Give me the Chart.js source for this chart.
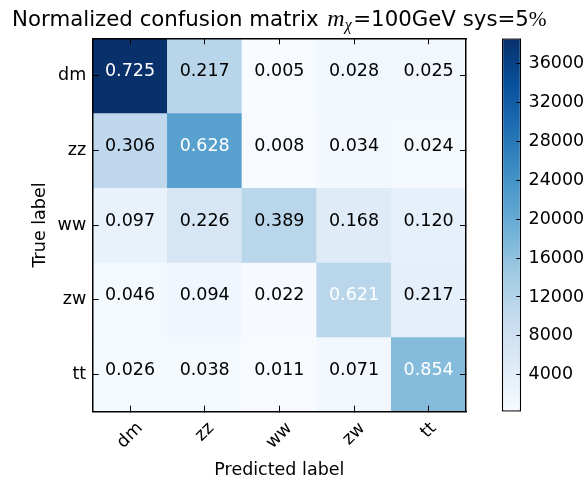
<!DOCTYPE html>
<html><head><meta charset="utf-8">
<script src="https://cdn.jsdelivr.net/npm/chart.js@4.4.0/dist/chart.umd.min.js"></script>
<style>
html,body{margin:0;padding:0;background:#fff;}
#wrap{position:relative;width:587px;height:477px;}
canvas{position:absolute;left:0;top:0;}
</style>
</head><body>
<div id="wrap"><canvas id="cm" width="587" height="477"></canvas><canvas id="cb" width="587" height="477"></canvas></div>
<script>
// ---- data ----
const predLabels = ['dm', 'zz', 'ww', 'zw', 'tt'];
const trueLabels = ['dm', 'zz', 'ww', 'zw', 'tt'];

// normalized values shown in each cell (rows = true label)
const normDm = [0.725, 0.217, 0.005, 0.028, 0.025];
const normZz = [0.306, 0.628, 0.008, 0.034, 0.024];
const normWw = [0.097, 0.226, 0.389, 0.168, 0.120];
const normZw = [0.046, 0.094, 0.022, 0.621, 0.217];
const normTt = [0.026, 0.038, 0.011, 0.071, 0.854];

// raw counts (drive the cell colours)
const countDm = [38560, 11530, 266, 1488, 1329];
const countZz = [10530, 21600, 275, 1170, 826];
const countWw = [2813, 6554, 11281, 4872, 3480];
const countZw = [837, 1711, 400, 11302, 3949];
const countTt = [516, 754, 218, 1409, 16943];

const colorbarTicks = [4000, 8000, 12000, 16000, 20000, 24000, 28000, 32000, 36000];

const titleMain = 'Normalized confusion matrix ';
const titleMathVar = 'm';
const titleMathSub = 'χ';
const titleRest = '=100GeV sys=5';
const titlePct = '%';
const xTitle = 'Predicted label';
const yTitle = 'True label';

// ---- helpers ----
const normMatrix = [normDm, normZz, normWw, normZw, normTt];
const countMatrix = [countDm, countZz, countWw, countZw, countTt];
const allCounts = countMatrix.flat();
const cMin = Math.min(...allCounts);
const cMax = Math.max(...allCounts);

const BLUES = [[247,251,255],[222,235,247],[198,219,239],[158,202,225],[107,174,214],[66,146,198],[33,113,181],[8,81,156],[8,48,107]];
function blues(t) {
  t = Math.max(0, Math.min(1, t));
  const p = t * 8;
  const i = Math.min(7, Math.floor(p));
  const f = p - i;
  const a = BLUES[i], b = BLUES[i + 1];
  const c = a.map((v, k) => Math.round(v + (b[k] - v) * f));
  return 'rgb(' + c.join(',') + ')';
}

const FONT = 'DejaVu Sans';
const FS = 17.5;
Chart.defaults.font.family = FONT;
Chart.defaults.color = '#000';

const gridOpts = { drawOnChartArea: false, tickLength: -6, color: '#000', lineWidth: 1, z: 1 };
const borderOpts = { display: true, color: '#000', width: 1.5, z: 1 };

const cellTextPlugin = {
  id: 'cellText',
  afterDatasetsDraw(chart) {
    const ctx = chart.ctx;
    const thresh = Math.max(...normMatrix.flat()) / 2;
    ctx.save();
    ctx.font = FS + 'px "' + FONT + '"';
    ctx.textAlign = 'center';
    ctx.textBaseline = 'alphabetic';
    chart.data.datasets.forEach((ds, i) => {
      const meta = chart.getDatasetMeta(i);
      meta.data.forEach((bar, j) => {
        const p = bar.getProps(['x', 'y', 'base'], true);
        const cy = (p.y + p.base) / 2 + 0.8;
        const v = normMatrix[i][j];
        ctx.fillStyle = v > thresh ? '#ffffff' : '#000000';
        ctx.fillText(v.toFixed(3), p.x, cy);
      });
    });
    ctx.restore();
  }
};

const labelsPlugin = {
  id: 'labelsPlugin',
  afterDraw(chart) {
    const { ctx, chartArea, scales } = chart;
    ctx.save();
    ctx.fillStyle = '#000';
    // rotated x tick labels (centred on ticks)
    ctx.font = FS + 'px "' + FONT + '"';
    const xs = scales.x;
    const lh = FS * 1.164;
    predLabels.forEach((lbl, k) => {
      const px = xs.getPixelForTick(k);
      const w = ctx.measureText(lbl).width;
      const half = (w + lh) / (2 * Math.SQRT2);
      const cy = chartArea.bottom + 6.7 + half;
      ctx.save();
      ctx.translate(px, cy);
      ctx.rotate(-Math.PI / 4);
      ctx.textAlign = 'center';
      ctx.textBaseline = 'middle';
      ctx.fillText(lbl, 0, 0);
      ctx.restore();
    });
    // axis titles
    ctx.textAlign = 'center';
    ctx.textBaseline = 'alphabetic';
    const cx = (chartArea.left + chartArea.right) / 2;
    ctx.fillText(xTitle, cx, 474.7);
    ctx.save();
    ctx.translate(44.5, (chartArea.top + chartArea.bottom) / 2);
    ctx.rotate(-Math.PI / 2);
    ctx.fillText(yTitle, 0, 0);
    ctx.restore();
    // main title with math part
    const parts = [
      { t: titleMain, f: '21.3px "DejaVu Sans"', dy: 0, pre: 0, post: 2 },
      { t: titleMathVar, f: 'italic 24px "Liberation Serif"', dy: 0, pre: 0, post: 0 },
      { t: titleMathSub, f: 'italic 16px "Liberation Serif"', dy: 4.5, pre: 0, post: 1.5 },
      { t: titleRest, f: '21.3px "DejaVu Sans"', dy: 0, pre: 0, post: 0 },
      { t: titlePct, f: '21.3px "Liberation Serif"', dy: 0, pre: 0, post: 0 }
    ];
    let total = 0;
    parts.forEach(p => { ctx.font = p.f; p.w = ctx.measureText(p.t).width; total += p.w + p.pre + p.post; });
    let x = cx - total / 2;
    ctx.textAlign = 'left';
    parts.forEach(p => { ctx.font = p.f; x += p.pre; ctx.fillText(p.t, x, 25.7 + p.dy); x += p.w + p.post; });
    ctx.restore();
  }
};

new Chart(document.getElementById('cm'), {
  type: 'bar',
  data: {
    labels: predLabels,
    datasets: trueLabels.map((r, i) => ({
      label: r,
      data: predLabels.map(() => 1),
      backgroundColor: countMatrix[i].map(v => blues((v - cMin) / (cMax - cMin))),
      borderWidth: 0,
      barPercentage: 1,
      categoryPercentage: 1,
      stack: 'rows'
    }))
  },
  options: {
    responsive: false,
    animation: false,
    events: [],
    layout: { padding: { left: 0, top: 38.3, right: 121, bottom: 0 } },
    plugins: { legend: { display: false }, tooltip: { enabled: false }, title: { display: false } },
    scales: {
      x: {
        type: 'category', position: 'bottom', stacked: true, offset: true,
        grid: Object.assign({}, gridOpts, { offset: false }),
        ticks: { display: false },
        border: borderOpts,
        afterFit(s) { s.height = 65.3; }
      },
      x2: {
        type: 'category', position: 'top', labels: predLabels, offset: true,
        grid: Object.assign({}, gridOpts, { offset: false }),
        ticks: { display: false },
        border: borderOpts,
        afterFit(s) { s.height = 0; }
      },
      y: {
        type: 'linear', position: 'left', stacked: true, reverse: true, min: 0, max: trueLabels.length,
        afterBuildTicks(s) { s.ticks = trueLabels.map((_, i) => ({ value: i + 0.5 })); },
        ticks: { callback: (v, idx) => trueLabels[idx], font: { size: FS, family: FONT }, color: '#000', padding: 12.5, z: 1 },
        grid: gridOpts,
        border: borderOpts,
        afterFit(s) { s.width = 92.7; }
      },
      y2: {
        type: 'linear', position: 'right', reverse: true, min: 0, max: trueLabels.length,
        afterBuildTicks(s) { s.ticks = trueLabels.map((_, i) => ({ value: i + 0.5 })); },
        ticks: { display: false },
        grid: gridOpts,
        border: borderOpts,
        afterFit(s) { s.width = 0; }
      }
    }
  },
  plugins: [cellTextPlugin, labelsPlugin]
});

new Chart(document.getElementById('cb'), {
  type: 'bar',
  data: {
    labels: ['counts'],
    datasets: [{
      data: [[cMin, cMax]],
      backgroundColor: (c) => {
        const ch = c.chart;
        const ys = ch.scales && ch.scales.y;
        if (!ch.chartArea || !ys) return blues(0);
        const g = ch.ctx.createLinearGradient(0, ys.getPixelForValue(cMin), 0, ys.getPixelForValue(cMax));
        BLUES.forEach((col, k) => g.addColorStop(k / 8, 'rgb(' + col.join(',') + ')'));
        return g;
      },
      borderColor: '#000',
      borderWidth: 1.5,
      borderSkipped: false,
      inflateAmount: 0,
      barPercentage: 1,
      categoryPercentage: 1
    }]
  },
  options: {
    responsive: false,
    animation: false,
    events: [],
    layout: { padding: { left: 501.7, top: 38.3, right: 0, bottom: 65.3 } },
    plugins: { legend: { display: false }, tooltip: { enabled: false } },
    scales: {
      x: { display: false },
      y: {
        type: 'linear', position: 'right', min: cMin, max: cMax,
        afterBuildTicks(s) { s.ticks = colorbarTicks.map(v => ({ value: v })); },
        ticks: { callback: (v) => String(v), font: { size: FS, family: FONT }, color: '#000', padding: 12.2, z: 1 },
        grid: { drawOnChartArea: false, tickLength: -5, color: '#000', lineWidth: 1, z: 1 },
        border: { display: false },
        afterFit(s) { s.width = 65.7; }
      }
    }
  }
});
</script>
</body></html>
